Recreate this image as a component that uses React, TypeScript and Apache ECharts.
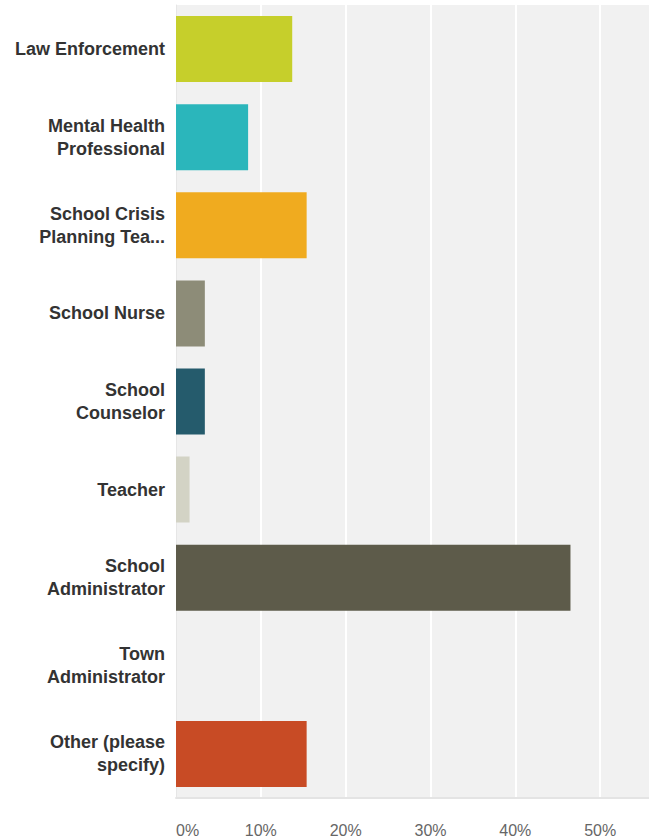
import React, { useEffect, useRef } from "react";
import * as echarts from "echarts";

const categories = [
  "Law Enforcement",
  "Mental Health\nProfessional",
  "School Crisis\nPlanning Tea...",
  "School Nurse",
  "School\nCounselor",
  "Teacher",
  "School\nAdministrator",
  "Town\nAdministrator",
  "Other (please\nspecify)",
];

const values = [13.7, 8.5, 15.4, 3.4, 3.4, 1.6, 46.5, 0, 15.4];

const barColors = [
  "#c6cf2b",
  "#2bb6bb",
  "#f0ab1f",
  "#8d8c78",
  "#255b6c",
  "#d3d3c5",
  "#5d5b4a",
  "#cccccc",
  "#c84b25",
];

const tickValues = [0, 10, 20, 30, 40, 50, 60];

export default function App() {
  const ref = useRef<HTMLDivElement>(null);

  useEffect(() => {
    if (!ref.current) return;
    const chart = echarts.init(ref.current, null, { renderer: "svg" });
    chart.setOption({
      animation: false,
      backgroundColor: "#ffffff",
      grid: {
        left: 176,
        right: -36,
        top: 5,
        bottom: 42,
        containLabel: false,
        outerBoundsMode: "none",
        show: true,
        backgroundColor: "#f1f1f1",
        borderWidth: 0,
      },
      xAxis: {
        type: "value",
        min: tickValues[0],
        max: tickValues[tickValues.length - 1],
        interval: 10,
        axisLine: { show: true, lineStyle: { color: "#e4e4e4", width: 2 } },
        axisTick: { show: false },
        splitLine: { show: true, lineStyle: { color: "#ffffff", width: 2 } },
        axisLabel: {
          formatter: (v: number) => `${v}%`,
          color: "#666666",
          fontSize: 16,
          fontFamily: "Liberation Sans, Arial, sans-serif",
          margin: 24,
          alignMinLabel: "left",
          showMaxLabel: false,
        },
      },
      yAxis: {
        type: "category",
        data: categories,
        inverse: true,
        axisLine: { show: true, lineStyle: { color: "#e6e6e6", width: 1 } },
        axisTick: { show: false },
        splitLine: { show: false },
        axisLabel: {
          color: "#333333",
          fontSize: 18,
          fontWeight: "bold",
          fontFamily: "Liberation Sans, Arial, sans-serif",
          lineHeight: 23,
          margin: 11,
          align: "right",
        },
      },
      series: [
        {
          type: "bar",
          barWidth: 66,
          data: values.map((v, i) => ({
            value: v,
            itemStyle: { color: barColors[i] },
          })),
        },
      ],
    });
    return () => chart.dispose();
  }, []);

  return (
    <div
      ref={ref}
      style={{ position: "fixed", left: 0, top: 0, width: 649, height: 840 }}
    />
  );
}
